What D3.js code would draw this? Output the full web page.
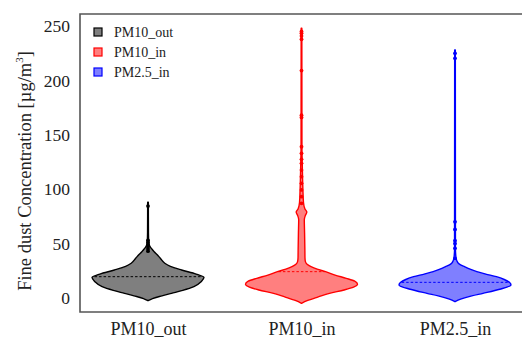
<!DOCTYPE html>
<html>
<head>
<meta charset="utf-8">
<script src="https://cdn.jsdelivr.net/npm/d3@7"></script>
<style>
  body { margin: 0; background: #fff; }
  svg text { font-family: "Liberation Serif", "Times New Roman", Times, "DejaVu Serif", serif; fill: #222; }
</style>
</head>
<body>
<div id="chart"></div>
<script>
// categories and colours
const categories = ['PM10_out', 'PM10_in', 'PM2.5_in'];
const seriesColors = ['#000000', '#ff0000', '#0000ff'];
const yTicks = [0, 50, 100, 150, 200, 250];

// violin outlines: [concentration, relative density]
const profilePM10out = [
  [-2.5, 0], [-0.5, 0.08], [2, 0.25], [4.3, 0.42], [7, 0.62], [10.4, 0.82], [15, 0.95],
  [19, 1.0], [22, 0.86], [25.7, 0.6], [29, 0.4], [31.9, 0.3], [36.5, 0.22],
  [40, 0.16], [42.6, 0.11], [45, 0.07], [47, 0.04], [50, 0.015], [60, 0.008], [88, 0.006]
];
const profilePM10in = [
  [-4.9, 0], [-2.5, 0.1], [1, 0.3], [4.3, 0.5], [7.4, 0.76], [10, 0.93], [12.6, 1.0],
  [15.5, 0.95], [18.1, 0.8], [21, 0.6], [24.2, 0.43], [26.5, 0.28], [28.8, 0.17],
  [31, 0.1], [33.4, 0.07], [37, 0.062], [45, 0.06], [60, 0.055], [72, 0.05], [76, 0.07],
  [79, 0.095], [82, 0.06], [88, 0.035], [100, 0.025], [120, 0.015], [140, 0.008],
  [248, 0.006]
];
const profilePM25in = [
  [-3.4, 0], [-1, 0.1], [2, 0.3], [4.3, 0.5], [8, 0.8], [12, 1.0], [14.4, 0.97],
  [17, 0.88], [19.6, 0.74], [22, 0.55], [24.2, 0.39], [26.5, 0.27], [28.8, 0.17],
  [30.5, 0.1], [32, 0.06], [34, 0.035], [37, 0.018], [45, 0.008], [228, 0.006]
];

// medians (dashed lines)
const medians = [19.6, 24.2, 14.4];

// outlier dots along the tails
const outliersPM10out = [43, 45, 47, 49, 51, 53, 84.5];
const outliersPM10in = [87, 93.1, 99.3, 105.4, 111.5, 117.6, 123.8, 127.5, 133, 139,
  166, 168, 209, 237.8, 240.8, 243.3, 245];
const outliersPM25in = [36.5, 45.7, 50, 52.7, 63, 70, 220.3, 224.9];

const profiles = [profilePM10out, profilePM10in, profilePM25in];
const outliers = [outliersPM10out, outliersPM10in, outliersPM25in];

const serif = '"Liberation Serif", "Times New Roman", Times, serif';
const W = 525, H = 338;
const frame = { left: 80, top: 14, right: 522, bottom: 312 };

const svg = d3.select('#chart').append('svg')
  .attr('width', W).attr('height', H)
  .attr('font-family', serif);

const y = d3.scaleLinear().domain([0, 250]).range([298, 26]);
const x = d3.scalePoint().domain(categories).range([148, 455]);
const w = d3.scaleLinear().domain([0, 1]).range([0, 56]);

// frame
svg.append('path')
  .attr('d', `M${frame.right},${frame.top}H${frame.left}V${frame.bottom}H${frame.right}`)
  .attr('fill', 'none').attr('stroke', '#555').attr('stroke-width', 1.6);

// y axis
const yAxis = svg.append('g')
  .attr('transform', `translate(${frame.left},0)`)
  .call(d3.axisLeft(y).tickValues(yTicks).tickSize(0).tickPadding(10))
  .attr('font-family', serif);
yAxis.select('.domain').remove();
yAxis.selectAll('text')
  .style('font-family', serif)
  .style('font-size', '17.5px').attr('fill', '#222');

// x axis labels
const xAxis = svg.append('g')
  .attr('transform', `translate(0,${frame.bottom})`)
  .call(d3.axisBottom(x).tickSize(0).tickPadding(10))
  .attr('font-family', serif);
xAxis.select('.domain').remove();
xAxis.selectAll('text')
  .style('font-family', serif)
  .style('font-size', '18px').attr('fill', '#222');

// y axis title
const yTitle = svg.append('text')
  .attr('transform', 'translate(31,171) rotate(-90)')
  .attr('text-anchor', 'middle')
  .style('font-family', serif)
  .style('font-size', '18.5px');
yTitle.append('tspan').text('Fine dust Concentration [µg/m');
yTitle.append('tspan').text('3').attr('font-size', '11px').attr('dy', -8);
yTitle.append('tspan').text(']').attr('dy', 8);

// violins
categories.forEach((cat, i) => {
  const cx = x(cat);
  const col = seriesColors[i];
  const prof = profiles[i];
  const area = d3.area()
    .y(d => y(d[0]))
    .x0(d => cx - w(d[1]))
    .x1(d => cx + w(d[1]))
    .curve(d3.curveMonotoneY);

  svg.append('path')
    .attr('d', area(prof))
    .attr('fill', col).attr('fill-opacity', 0.5)
    .attr('stroke', col).attr('stroke-width', 1.4)
    .attr('stroke-linejoin', 'round');

  // dashed median line across the violin
  const m = medians[i];
  const k = prof.findIndex(d => d[0] >= m);
  const a = prof[k - 1], b = prof[k];
  const dens = a[1] + (b[1] - a[1]) * (m - a[0]) / (b[0] - a[0]);
  svg.append('line')
    .attr('x1', cx - w(dens) + 1).attr('x2', cx + w(dens) - 1)
    .attr('y1', y(m)).attr('y2', y(m))
    .attr('stroke', col).attr('stroke-width', 1)
    .attr('stroke-dasharray', '2.5,2');

  svg.append('g').selectAll('circle')
    .data(outliers[i])
    .join('circle')
    .attr('cx', cx).attr('cy', d => y(d))
    .attr('r', 1.9)
    .attr('fill', col);
});

// legend
const legend = svg.append('g').attr('transform', 'translate(94,32)');
categories.forEach((cat, i) => {
  const g = legend.append('g').attr('transform', `translate(0,${i * 20})`);
  g.append('rect')
    .attr('x', 0).attr('y', -4).attr('width', 8).attr('height', 8)
    .attr('fill', seriesColors[i]).attr('fill-opacity', 0.5)
    .attr('stroke', seriesColors[i]).attr('stroke-width', 1.2);
  g.append('text')
    .attr('x', 20).attr('y', 5)
    .style('font-family', serif)
    .style('font-size', '14px')
    .text(cat);
});
</script>
</body>
</html>
